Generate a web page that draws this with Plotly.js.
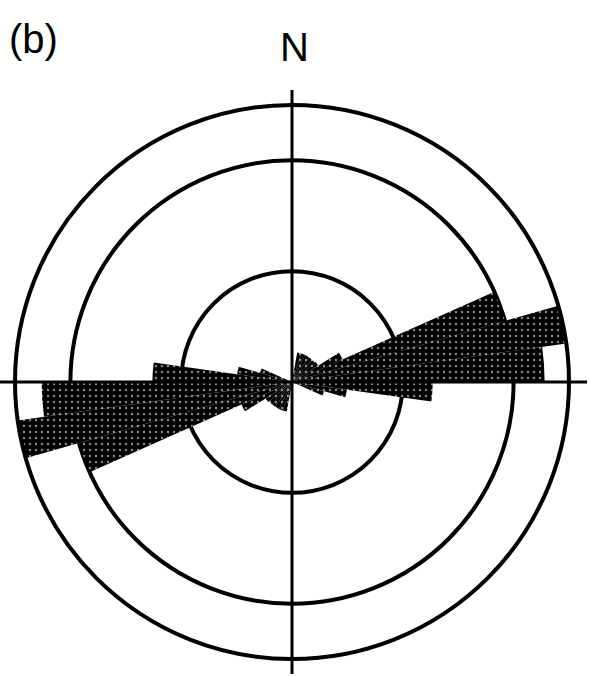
<!DOCTYPE html>
<html>
<head>
<meta charset="utf-8">
<script src="https://cdn.plot.ly/plotly-3.0.1.min.js"></script>
<style>html,body{margin:0;padding:0;background:#fff;}#chart{width:590px;height:677px;}</style>
</head>
<body>
<div id="chart"></div>
<script>
// Bin centres (azimuth, degrees clockwise from N), 8-degree bins
const thetaEast = [14, 22, 30, 38, 46, 54, 62, 70, 78, 86, 94, 102, 110];
const rEast     = [2.7, 2.7, 2.7, 2.7, 2.7, 2.8, 5.0, 20.0, 25.0, 22.8, 12.7, 5.0, 3.0];
const thetaWest = [194, 202, 210, 218, 226, 234, 242, 250, 258, 266, 274, 282, 290];
const rWest     = [2.7, 2.7, 2.7, 2.7, 2.7, 2.8, 5.0, 20.0, 25.0, 22.6, 12.6, 5.0, 3.0];
const binWidth = 8;
const ringValues = [10, 20];
const radialMax = 25;
const panelLabel = "(b)";
const northLabel = "N";

const W = 590, H = 677;
const cx = 292, cy = 382, R = 277;
const px = x => x / W;
const py = y => (H - y) / H;

const bar = (theta, r) => ({
  type: 'barpolar',
  theta: theta,
  r: r,
  width: binWidth,
  marker: {
    color: '#000',
    line: {width: 0},
    pattern: {shape: '.', fgcolor: '#8a8a8a', bgcolor: '#000', size: 6, solidity: 0.12}
  },
  hoverinfo: 'skip',
  showlegend: false
});

const data = [bar(thetaEast, rEast), bar(thetaWest, rWest)];

const layout = {
  width: W, height: H,
  margin: {l: 0, r: 0, t: 0, b: 0, pad: 0},
  paper_bgcolor: '#fff',
  showlegend: false,
  polar: {
    domain: {x: [px(cx - R), px(cx + R)], y: [py(cy + R), py(cy - R)]},
    bgcolor: '#fff',
    bargap: 0,
    radialaxis: {
      range: [0, radialMax],
      tickvals: ringValues,
      showticklabels: false,
      ticks: '',
      showline: false,
      showgrid: true,
      gridcolor: '#000',
      gridwidth: 4
    },
    angularaxis: {
      rotation: 90,
      direction: 'clockwise',
      showgrid: false,
      showticklabels: false,
      ticks: '',
      showline: true,
      linecolor: '#000',
      linewidth: 4
    }
  },
  shapes: [
    {type: 'line', xref: 'paper', yref: 'paper', x0: px(0), x1: px(587), y0: py(cy), y1: py(cy),
     line: {color: '#000', width: 3}, layer: 'above'},
    {type: 'line', xref: 'paper', yref: 'paper', x0: px(cx), x1: px(cx), y0: py(90), y1: py(674),
     line: {color: '#000', width: 3}, layer: 'above'}
  ],
  annotations: [
    {text: panelLabel, xref: 'paper', yref: 'paper', x: px(7), y: py(39), xanchor: 'left', yanchor: 'middle',
     showarrow: false, font: {family: 'Liberation Sans, Arial, sans-serif', size: 40, color: '#000'}},
    {text: northLabel, xref: 'paper', yref: 'paper', x: px(cx + 2), y: py(47), xanchor: 'center', yanchor: 'middle',
     showarrow: false, font: {family: 'Liberation Sans, Arial, sans-serif', size: 40, color: '#000'}}
  ]
};

Plotly.newPlot('chart', data, layout, {staticPlot: true, displayModeBar: false});
</script>
</body>
</html>
